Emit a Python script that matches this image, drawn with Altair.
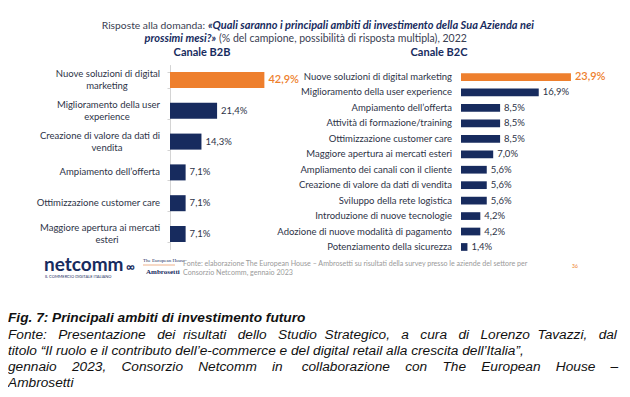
import altair as alt
import pandas as pd

# ---------------- data ----------------
b2b_line1 = ["Nuove soluzioni di digital", "Miglioramento della user",
             "Creazione di valore da dati di", "Ampiamento dell’offerta",
             "Ottimizzazione customer care", "Maggiore apertura ai mercati"]
b2b_line2 = ["marketing", "experience", "vendita", "", "", "esteri"]
b2b_values = [42.9, 21.4, 14.3, 7.1, 7.1, 7.1]

b2c_categories = ["Nuove soluzioni di digital marketing", "Miglioramento della user experience",
                  "Ampiamento dell’offerta", "Attività di formazione/training",
                  "Ottimizzazione customer care", "Maggiore apertura ai mercati esteri",
                  "Ampliamento dei canali con il cliente", "Creazione di valore da dati di vendita",
                  "Sviluppo della rete logistica", "Introduzione di nuove tecnologie",
                  "Adozione di nuove modalità di pagamento", "Potenziamento della sicurezza"]
b2c_values = [23.9, 16.9, 8.5, 8.5, 8.5, 7.0, 5.6, 5.6, 5.6, 4.2, 4.2, 1.4]

panel_titles = ["Canale B2B", "Canale B2C"]
title_regular_1 = "Risposte alla domanda:"
title_bold_1 = "«Quali saranno i principali ambiti di investimento della Sua Azienda nei"
title_bold_2 = "prossimi mesi?»"
title_regular_2 = "(% del campione, possibilità di risposta multipla), 2022"
footer_source = ["Fonte: elaborazione The European House – Ambrosetti su risultati della survey presso le aziende del settore per",
                 "Consorzio Netcomm, gennaio 2023"]
caption_title = "Fig. 7: Principali ambiti di investimento futuro"
caption_lines = ["Fonte: Presentazione dei risultati dello Studio Strategico, a cura di Lorenzo Tavazzi, dal",
                 "titolo “Il ruolo e il contributo dell’e-commerce e del digital retail alla crescita dell’Italia”,",
                 "gennaio 2023, Consorzio Netcomm in collaborazione con The European House –",
                 "Ambrosetti"]
caption_extra_spaces = [21, 0, 31, 0]   # non-breaking spaces added to justify the lines

# ---------------- style ----------------
ORANGE = "#EE7F2D"
NAVY = "#172B5E"
LABEL = "#2D3347"
F = "Lato"
CAP_F = "Liberation Sans"

b2b_cats = [(a + " " + b).strip() for a, b in zip(b2b_line1, b2b_line2)]
df_b2b = pd.DataFrame({"cat": b2b_cats, "l1": b2b_line1, "l2": b2b_line2, "v": b2b_values})
df_b2c = pd.DataFrame({"cat": b2c_categories, "v": b2c_values})

fmt = "replace(format(datum.v, '.1f'), '.', ',') + '%'"


def justify(line, n_extra):
    words = line.split(" ")
    gaps = len(words) - 1
    if n_extra == 0 or gaps == 0:
        return line
    out = words[0]
    for i in range(1, len(words)):
        k = round(n_extra * i / gaps) - round(n_extra * (i - 1) / gaps)
        out += " " + "\u00a0" * k + words[i]
    return out


def txt(s, x, y, size=10, weight="normal", style="normal", color=LABEL, align="left", font=F):
    return alt.Chart(pd.DataFrame({"t": [s]})).mark_text(
        align=align, baseline="middle", fontSize=size, fontWeight=weight,
        fontStyle=style, color=color, font=font
    ).encode(text="t:N", x=alt.value(x), y=alt.value(y))


# ---------------- B2B panel ----------------
ys1 = alt.Scale(domain=b2b_cats, range=[56.6, 241.4], paddingInner=0.48, paddingOuter=0.24)
xs1 = alt.Scale(domain=[0, 50], range=[162, 272])
ax1 = alt.Axis(orient="left", offset=-162, labels=False, title=None, grid=False,
               domainColor="#d4d4d4", tickColor="#d4d4d4", tickSize=3, tickBand="extent")
base1 = alt.Chart(df_b2b).transform_calculate(lab=fmt)
Y1 = alt.Y("cat:N", scale=ys1, sort=None, axis=ax1)
X1 = alt.X("v:Q", scale=xs1, axis=None)
bars1 = base1.mark_bar().encode(
    x=X1, y=Y1,
    color=alt.condition(alt.datum.cat == b2b_cats[0], alt.value(ORANGE), alt.value(NAVY)))
l1_two = base1.transform_filter("datum.l2 != ''").mark_text(
    align="right", baseline="middle", dy=-6, fontSize=9.5, font=F, color=LABEL
).encode(y=Y1, x=alt.value(152), text="l1:N")
l1_one = base1.transform_filter("datum.l2 == ''").mark_text(
    align="right", baseline="middle", fontSize=9.5, font=F, color=LABEL
).encode(y=Y1, x=alt.value(152), text="l1:N")
l2_two = base1.transform_filter("datum.l2 != ''").mark_text(
    align="center", baseline="middle", dy=6, fontSize=9.5, font=F, color=LABEL
).encode(y=Y1, x=alt.value(99), text="l2:N")
v1_hi = base1.transform_filter(alt.datum.cat == b2b_cats[0]).mark_text(
    align="left", baseline="middle", dx=4, fontSize=11, fontWeight=600, font=F, color=ORANGE
).encode(x=X1, y=Y1, text="lab:N")
v1_lo = base1.transform_filter(alt.datum.cat != b2b_cats[0]).mark_text(
    align="left", baseline="middle", dx=4, fontSize=9.5, font=F, color=LABEL
).encode(x=X1, y=Y1, text="lab:N")
panel1 = alt.layer(bars1, l1_two, l1_one, l2_two, v1_hi, v1_lo)

# ---------------- B2C panel ----------------
ys2 = alt.Scale(domain=b2c_categories, range=[61.3, 246.7], paddingInner=0.5, paddingOuter=0.25)
xs2 = alt.Scale(domain=[0, 25], range=[453, 568])
base2 = alt.Chart(df_b2c).transform_calculate(lab=fmt)
Y2 = alt.Y("cat:N", scale=ys2, sort=None, axis=None)
X2 = alt.X("v:Q", scale=xs2, axis=None)
bars2 = base2.mark_bar().encode(
    x=X2, y=Y2,
    color=alt.condition(alt.datum.cat == b2c_categories[0], alt.value(ORANGE), alt.value(NAVY)))
lab2 = base2.mark_text(align="right", baseline="middle", fontSize=9.5, font=F, color=LABEL
                       ).encode(y=Y2, x=alt.value(444), text="cat:N")
v2_hi = base2.transform_filter(alt.datum.cat == b2c_categories[0]).mark_text(
    align="left", baseline="middle", dx=4, fontSize=11, fontWeight=600, font=F, color=ORANGE
).encode(x=X2, y=Y2, text="lab:N")
v2_lo = base2.transform_filter(alt.datum.cat != b2c_categories[0]).mark_text(
    align="left", baseline="middle", dx=4, fontSize=9.5, font=F, color=LABEL
).encode(x=X2, y=Y2, text="lab:N")
panel2 = alt.layer(bars2, lab2, v2_hi, v2_lo)

# ---------------- texts ----------------
logo_rule = alt.Chart(pd.DataFrame({"t": [0]})).mark_rule(color="#E9A070", strokeWidth=0.8).encode(
    x=alt.value(135), x2=alt.value(167), y=alt.value(257))

texts = [
    txt(title_regular_1, 197, 18, size=10.3, color="#3A4052", align="right"),
    txt(title_bold_1, 200, 18, size=11, weight="bold", style="italic", color=NAVY),
    txt(title_bold_2, 208, 31, size=11, weight="bold", style="italic", color=NAVY, align="right"),
    txt(title_regular_2, 211, 31, size=10.5, color="#3A4052"),
    txt(panel_titles[0], 194, 45, size=11, weight="bold", color=NAVY, align="center"),
    txt(panel_titles[1], 431, 45, size=11, weight="bold", color=NAVY, align="center"),
    txt("netcomm", 36, 257, size=19, weight="bold", color=NAVY),
    txt("IL COMMERCIO DIGITALE ITALIANO", 37, 269, size=4, color=NAVY),
    txt("∞", 118, 259, size=12, weight="bold", color=NAVY),
    txt("The European House", 135, 252, size=5, color=NAVY, font="Liberation Serif"),
    txt("Ambrosetti", 138, 264, size=7, weight="bold", color=NAVY, font="Liberation Serif"),
    txt(footer_source[0], 175, 256, size=7.1, color="#9A9A9A"),
    txt(footer_source[1], 175, 265, size=7.1, color="#9A9A9A"),
    txt("36", 564, 258, size=5, color=ORANGE),
    txt(caption_title, 0, 310, size=13.7, weight="bold", style="italic", color="#111111", font=CAP_F),
    logo_rule,
]
for i, line in enumerate(caption_lines):
    texts.append(txt(justify(line, caption_extra_spaces[i]), 0, 327 + i * 16,
                     size=13.7, style="italic", color="#111111", font=CAP_F))

chart = alt.layer(panel1, panel2, *texts).resolve_scale(
    x="independent", y="independent"
).properties(
    width=614, height=381, padding=0, autosize="none"
).configure_view(stroke=None)

chart.save("out.html", embed_options={"renderer": "svg", "actions": False})
